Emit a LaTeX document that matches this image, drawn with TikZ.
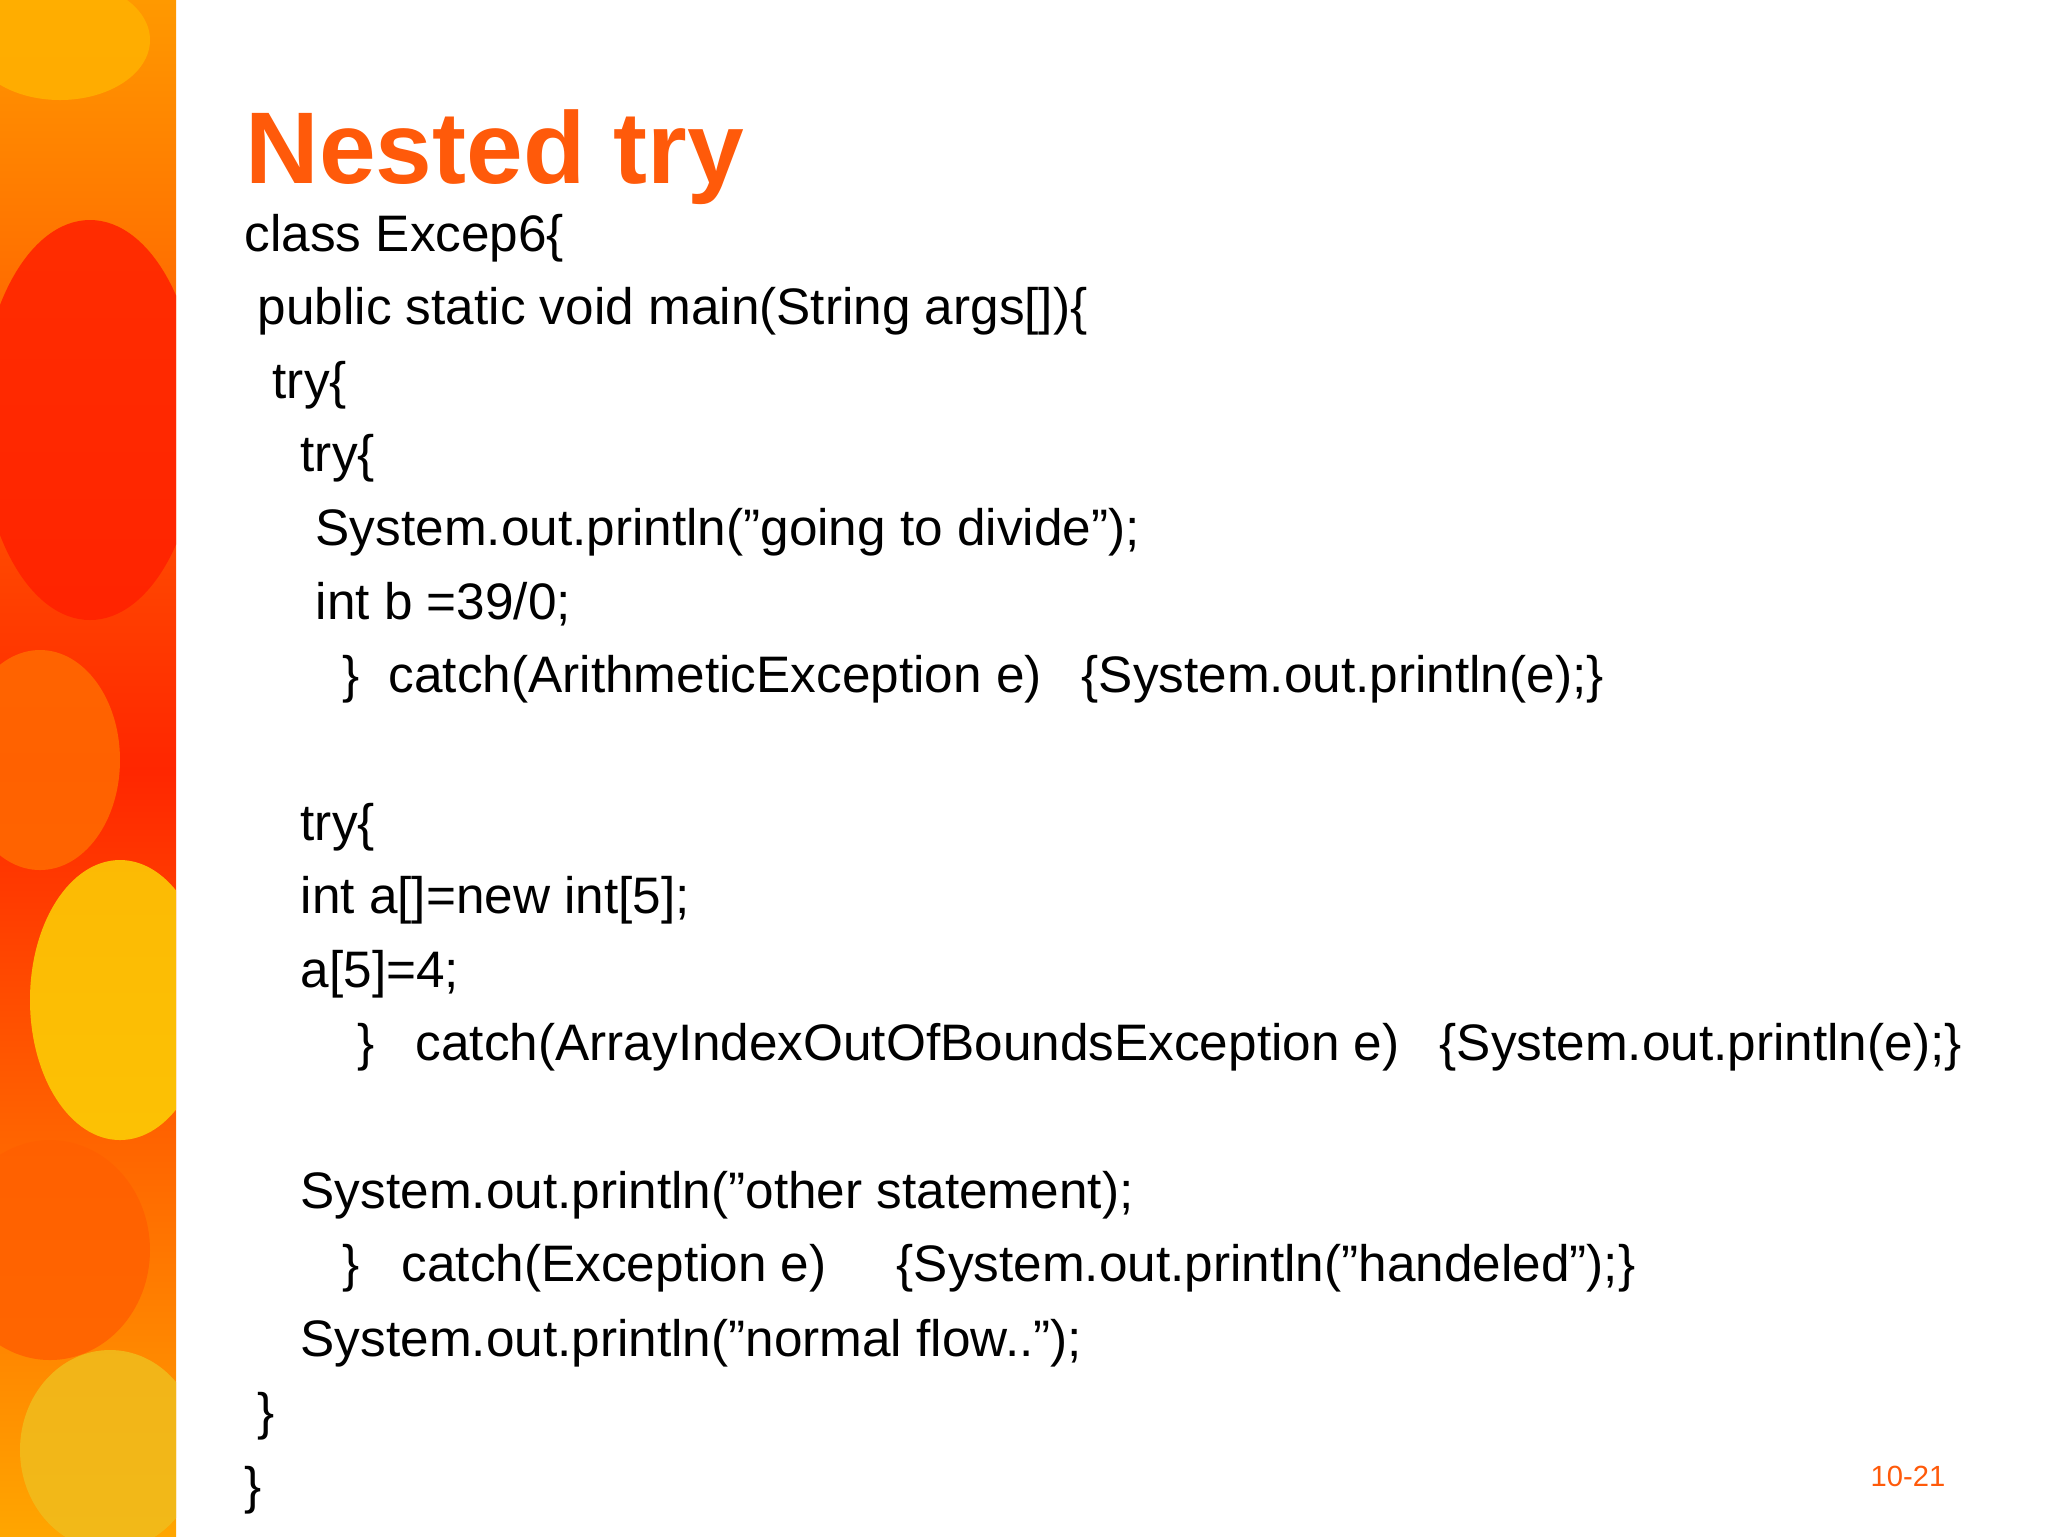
\documentclass[tikz,border=0pt]{standalone}
\usepackage{fontspec}
\setmainfont{Liberation Sans}[Ligatures=ResetAll]
\definecolor{ttl}{HTML}{FF5A0A}
\newcommand{\dq}{"}
\begin{document}
\begin{tikzpicture}[x=0.1mm,y=-0.1mm,
  code/.style={anchor=base west,inner sep=0pt,font=\fontsize{14.6}{18}\selectfont},
  leaf/.style={fill=#1,draw=none,opacity=0.85}]
\useasboundingbox (0,0) rectangle (2048,1536);
\fill[white] (0,0) rectangle (2048,1536);
\begin{scope}
\clip (0,0) rectangle (176,1536);
\shade[top color=orange!80!yellow,bottom color=orange!70!yellow,middle color=red!70!orange] (0,0) rectangle (176,1536);
\fill[leaf=orange!60!yellow] (60,40) ellipse (90 and 60);
\fill[leaf=red!75!orange] (90,420) ellipse (110 and 200);
\fill[leaf=orange!85!red] (40,760) ellipse (80 and 110);
\fill[leaf=yellow!70!orange] (120,1000) ellipse (90 and 140);
\fill[leaf=orange!75!red] (50,1250) ellipse (100 and 110);
\fill[leaf=yellow!60!orange!80!brown] (110,1450) ellipse (90 and 100);
\end{scope}
\node[anchor=base west,inner sep=0pt,text=ttl,font=\bfseries\fontsize{29}{34}\selectfont] (title) at (245,183) {Nested try};
\node[code] (l1) at (244,251) {class Excep6\{};
\node[code] (l2) at (257,324) {public static void main(String args[])\{};
\node[code] (l3) at (272,398) {try\{};
\node[code] (l4) at (300,471) {try\{};
\node[code] (l5) at (315,545) {System.out.println(\dq going to divide\dq);};
\node[code] (l6) at (315,619) {int b =39/0;};
\node[code] (l7a) at (342,692) {\}};
\node[code] (l7b) at (388,692) {catch(ArithmeticException e)};
\node[code] (l7c) at (1081,692) {\{System.out.println(e);\}};
\node[code] (l8) at (300,840) {try\{};
\node[code] (l9) at (300,913) {int a[]=new int[5];};
\node[code] (l10) at (300,987) {a[5]=4;};
\node[code] (l11a) at (357,1060) {\}};
\node[code] (l11b) at (415,1060) {catch(ArrayIndexOutOfBoundsException e)};
\node[code] (l11c) at (1439,1060) {\{System.out.println(e);\}};
\node[code] (l12) at (300,1208) {System.out.println(\dq other statement);};
\node[code] (l13a) at (342,1281) {\}};
\node[code] (l13b) at (401,1281) {catch(Exception e)};
\node[code] (l13c) at (896,1281) {\{System.out.println(\dq handeled\dq);\}};
\node[code] (l14) at (300,1356) {System.out.println(\dq normal flow..\dq);};
\node[code] (l15) at (257,1429) {\}};
\node[code] (l16) at (244,1503) {\}};
\node[anchor=base west,inner sep=0pt,text=ttl,font=\fontsize{8.3}{10}\selectfont] (pg) at (1870,1486) {10-21};
\end{tikzpicture}
\end{document}
